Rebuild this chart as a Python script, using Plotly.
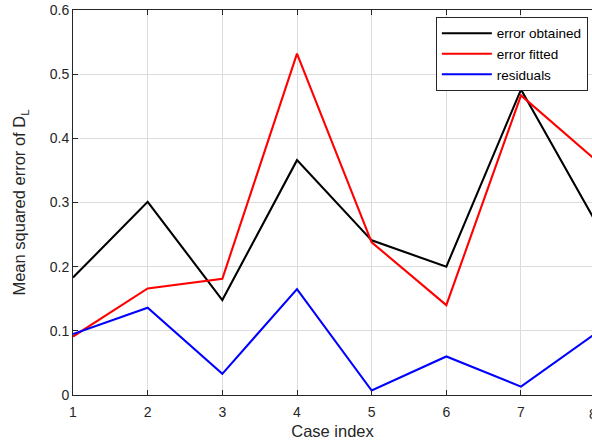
import plotly.graph_objects as go

# Case indices and mean squared errors of D_L
cases = [1, 2, 3, 4, 5, 6, 7, 8]
error_obtained = [0.183, 0.301, 0.148, 0.366, 0.241, 0.200, 0.476, 0.270]
error_fitted = [0.091, 0.166, 0.181, 0.532, 0.238, 0.140, 0.467, 0.366]
residuals = [0.095, 0.136, 0.033, 0.165, 0.007, 0.060, 0.013, 0.096]

y_ticks = [0, 0.1, 0.2, 0.3, 0.4, 0.5, 0.6]
y_tick_text = ["0", "0.1", "0.2", "0.3", "0.4", "0.5", "0.6"]
x_ticks = cases
X_RANGE = [1, 7.951]   # the last case sits just past the right edge of the view

FONT = "Liberation Sans, Arial, Helvetica, sans-serif"
AX = "#262626"
GRID = "#dcdcdc"

fig = go.Figure()
for name, vals, col in [
    ("error obtained", error_obtained, "#000000"),
    ("error fitted", error_fitted, "#ff0000"),
    ("residuals", residuals, "#0000ff"),
]:
    fig.add_trace(go.Scatter(x=cases, y=vals, mode="lines", name=name,
                             line=dict(color=col, width=2.1)))

# tick label of the last case, which falls at the right edge of the view
last = x_ticks[-1]
fig.add_annotation(text=str(last), xref="paper", yref="paper",
                   x=(last - X_RANGE[0]) / (X_RANGE[1] - X_RANGE[0]), y=0,
                   xanchor="center", yanchor="top", yshift=-9, xshift=-3,
                   showarrow=False,
                   font=dict(family=FONT, size=14, color=AX))

fig.update_layout(
    width=592, height=445,
    margin=dict(l=73, r=0, t=10, b=50),
    paper_bgcolor="white", plot_bgcolor="white",
    font=dict(family=FONT, size=14, color=AX),
    showlegend=True,
    legend=dict(x=0.992, y=0.982, xanchor="right", yanchor="top",
                bgcolor="white", bordercolor=AX, borderwidth=1,
                font=dict(family=FONT, size=13.5, color="#000000"),
                itemwidth=50, tracegroupgap=0),
    xaxis=dict(range=X_RANGE, tickvals=x_ticks, ticktext=[str(c) for c in x_ticks],
               showgrid=True, gridcolor=GRID, gridwidth=1,
               showline=True, linecolor=AX, linewidth=1, mirror="allticks",
               ticks="inside", ticklen=5, tickcolor=AX, zeroline=False,
               ticklabelstandoff=4,
               title=dict(text="Case index", font=dict(size=16.5, family=FONT, color=AX), standoff=6),
               tickfont=dict(size=14, family=FONT, color=AX)),
    yaxis=dict(range=[0, 0.6], tickvals=y_ticks, ticktext=y_tick_text,
               showgrid=True, gridcolor=GRID, gridwidth=1,
               showline=True, linecolor=AX, linewidth=1, mirror=False,
               ticks="inside", ticklen=5, tickcolor=AX, zeroline=False,
               title=dict(text="Mean squared error of D<sub>L</sub>",
                          font=dict(size=16.5, family=FONT, color=AX), standoff=19),
               tickfont=dict(size=14, family=FONT, color=AX)),
    yaxis2=dict(range=[0, 0.6], tickvals=y_ticks, overlaying="y", side="right",
                showticklabels=False, showgrid=False, showline=False, zeroline=False,
                ticks="inside", ticklen=2, tickcolor=AX),
)

fig.write_html("out.html")
